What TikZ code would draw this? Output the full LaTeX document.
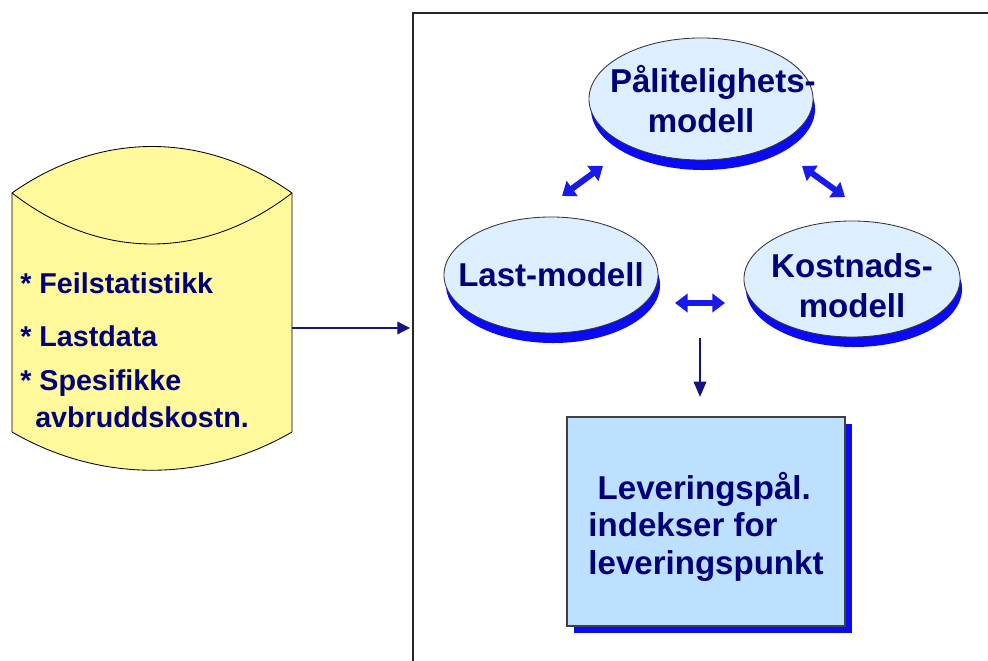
\documentclass[tikz,border=0pt]{standalone}
\usepackage{fontspec}
\setmainfont{Liberation Sans}
\usetikzlibrary{arrows.meta}
\usetikzlibrary{shapes.geometric,shadows}

\definecolor{navytext}{RGB}{0,0,120}
\definecolor{ellfill}{RGB}{221,238,255}
\definecolor{boxfill}{RGB}{190,224,255}
\definecolor{cylfill}{RGB}{255,249,155}
\definecolor{shadeblue}{RGB}{10,10,245}
\definecolor{arrowblue}{RGB}{25,25,235}
\definecolor{linkblue}{RGB}{20,20,130}

\tikzset{
 model/.style={ellipse, draw=black!80, line width=0.6pt, fill=ellfill, inner sep=-60pt,
   text=navytext, align=center, font=\fontsize{23.5}{28.5}\selectfont\bfseries,
   drop shadow={shadow xshift=0.05cm, shadow yshift=-0.25cm, fill=shadeblue, opacity=1}},
 result/.style={rectangle, draw=black!75, line width=0.8pt, fill=boxfill, inner sep=0pt,
   text=navytext, align=left, font=\fontsize{23.5}{27}\selectfont\bfseries,
   minimum width=6.95cm, minimum height=5.225cm,
   drop shadow={shadow xshift=0.175cm, shadow yshift=-0.175cm, fill=shadeblue, opacity=1}},
 item/.style={anchor=west, inner sep=0pt, text=navytext, font=\fontsize{20.4}{24}\selectfont\bfseries},
 dbl/.style={arrowblue, line width=4.3pt, {Triangle[length=9pt,width=13pt]}-{Triangle[length=9pt,width=13pt]}},
 link/.style={linkblue, line width=1.4pt, -{Triangle[length=11pt,width=9pt]}},
 feed/.style={linkblue, line width=0.9pt, -{Triangle[length=9pt,width=9pt]}}
}

\begin{document}
\begin{tikzpicture}[x=0.025cm, y=-0.025cm]
\useasboundingbox (0,0) rectangle (988,661);
\draw[black!85, line width=1.5pt] (413,665) -- (413,13) -- (992,13);

\filldraw[fill=cylfill, draw=black, line width=0.6pt] (12,193) .. controls (100,131) and (204,131) .. (292,193)
  -- (292,432) .. controls (204,483) and (100,483) .. (12,432) -- cycle;
\draw[black, line width=0.6pt] (12,193) .. controls (100,261) and (204,261) .. (292,193);
\node[item] (feil) at (20,283) {* Feilstatistikk};
\node[item] (last) at (20,336) {* Lastdata};
\node[item] (spes) at (20,383) {* Spesifikke};
\node[item] (avbr) at (35,417) {avbruddskostn.};

\node[model, minimum width=5.6cm, minimum height=3.05cm] (pal) at (701,99) {\hspace*{0.72em}Pålitelighets-\\modell};
\node[model, minimum width=5.35cm, minimum height=2.9cm] (lastm) at (551,275) {Last-modell};
\node[model, minimum width=5.4cm, minimum height=2.9cm] (kost) at (852,279) {\rule{0pt}{26pt}Kostnads-\\modell};
\node[result] (lev) at (706,521.5) {\rule{0pt}{27pt}\hspace*{0.28em}Leveringspål.\\indekser for\\leveringspunkt};

\coordinate (dbout) at (292,328);
\coordinate (frin) at (410,328);
\coordinate (pl1) at (562,196);
\coordinate (pl2) at (603,166);
\coordinate (pk1) at (802,166);
\coordinate (pk2) at (845,197);
\coordinate (lk1) at (675,303);
\coordinate (lk2) at (725,303);
\coordinate (dn1) at (700,338);
\coordinate (dn2) at (700,397);

\foreach \a/\b in {pl1/pl2, pk1/pk2, lk1/lk2}
 \draw[dbl] (\a) -- (\b);
\draw[feed] (dbout) -- (frin);
\draw[link] (dn1) -- (dn2);
\end{tikzpicture}
\end{document}
